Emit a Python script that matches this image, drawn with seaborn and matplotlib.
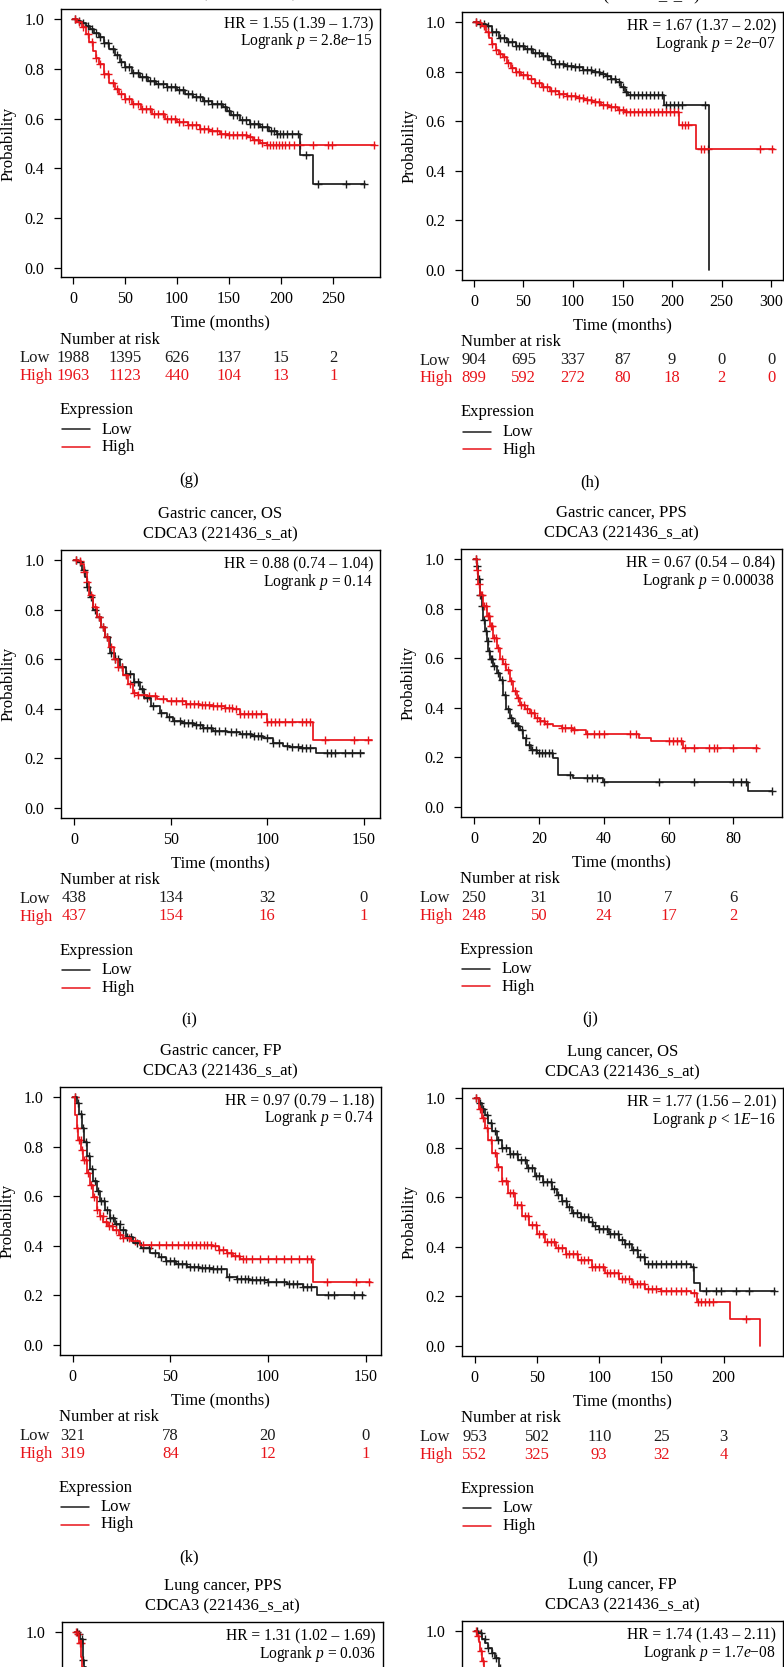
import numpy as np
import seaborn as sns
import matplotlib.pyplot as plt
from matplotlib.transforms import blended_transform_factory

# ---------------- data ----------------
# (g) top-left, only lower part of title visible
g_low_t = [0, 4, 8, 12, 16, 20, 25, 30, 35, 40, 45, 50, 57, 64, 72, 80, 90, 100, 108, 115, 125, 134, 144, 148, 152, 160, 170, 180, 188, 196, 218, 231, 281]
g_low_s = [1.0, 0.995, 0.985, 0.975, 0.962, 0.947, 0.928, 0.905, 0.880, 0.855, 0.830, 0.807, 0.785, 0.767, 0.752, 0.740, 0.726, 0.714, 0.700, 0.687, 0.673, 0.660, 0.647, 0.630, 0.613, 0.593, 0.580, 0.566, 0.552, 0.539, 0.452, 0.336, 0.336]
g_high_t = [0, 4, 9, 12, 15, 19, 22, 25, 30, 35, 40, 44, 50, 57, 65, 76, 88, 100, 110, 122, 131, 141, 150, 160, 167, 173, 180, 186, 290]
g_high_s = [1.0, 0.99, 0.968, 0.94, 0.91, 0.874, 0.845, 0.82, 0.78, 0.745, 0.718, 0.70, 0.68, 0.66, 0.64, 0.62, 0.60, 0.586, 0.573, 0.56, 0.55, 0.54, 0.535, 0.533, 0.525, 0.513, 0.503, 0.493, 0.493]
g_low_c = [2, 6, 10, 14, 18, 22, 26, 30, 34, 38, 42, 46, 50, 54, 58, 62, 66, 70, 74, 78, 82, 86, 90, 94, 98, 102, 106, 110, 114, 118, 122, 126, 130, 134, 138, 142, 146, 150, 154, 158, 162, 166, 170, 174, 178, 182, 186, 190, 193, 196, 199, 202, 206, 210, 216, 224, 235, 262, 280]
g_high_c = [2, 6, 10, 14, 18, 22, 26, 30, 34, 38, 42, 46, 50, 54, 58, 62, 66, 70, 74, 78, 82, 86, 90, 94, 98, 102, 106, 110, 114, 118, 122, 126, 130, 134, 138, 142, 146, 150, 154, 158, 162, 166, 170, 174, 178, 182, 186, 189, 192, 195, 198, 201, 204, 208, 212, 218, 231, 245, 249, 289]
g_ticks = [0, 50, 100, 150, 200, 250]
g_risk_low = [1988, 1395, 626, 137, 15, 2]
g_risk_high = [1963, 1123, 440, 104, 13, 1]

# (h)
h_low_t = [0, 5, 12, 18, 25, 33, 42, 52, 60, 69, 76, 82, 92, 101, 110, 119, 127, 133, 138, 143, 148, 153, 156, 192, 237]
h_low_s = [1.0, 0.993, 0.984, 0.96, 0.937, 0.92, 0.904, 0.89, 0.876, 0.863, 0.845, 0.83, 0.823, 0.817, 0.807, 0.797, 0.79, 0.783, 0.77, 0.756, 0.736, 0.716, 0.705, 0.667, 0.0]
h_high_t = [0, 4, 8, 12, 15, 18, 22, 25, 29, 33, 37, 42, 48, 55, 62, 69, 77, 86, 94, 103, 111, 119, 128, 136, 145, 153, 207, 224, 303]
h_high_s = [1.0, 0.995, 0.984, 0.96, 0.935, 0.91, 0.885, 0.87, 0.857, 0.835, 0.815, 0.797, 0.785, 0.77, 0.753, 0.736, 0.722, 0.71, 0.70, 0.693, 0.685, 0.676, 0.666, 0.656, 0.646, 0.636, 0.586, 0.489, 0.489]
h_low_c = [2, 6, 10, 14, 18, 22, 26, 30, 34, 38, 42, 46, 50, 54, 58, 62, 66, 70, 74, 78, 82, 86, 90, 94, 98, 102, 106, 110, 114, 118, 122, 126, 130, 134, 138, 142, 146, 150, 154, 158, 162, 166, 170, 174, 178, 182, 186, 190, 194, 198, 202, 206, 210, 233]
h_high_c = [2, 6, 10, 14, 18, 22, 26, 30, 34, 38, 42, 46, 50, 54, 58, 62, 66, 70, 74, 78, 82, 86, 90, 94, 98, 102, 106, 110, 114, 118, 122, 126, 130, 134, 138, 142, 146, 150, 154, 158, 162, 166, 170, 174, 178, 182, 186, 190, 194, 198, 202, 206, 210, 213, 216, 229, 232, 236, 289, 301]
h_ticks = [0, 50, 100, 150, 200, 250, 300]
h_risk_low = [904, 695, 337, 87, 9, 0, 0]
h_risk_high = [899, 592, 272, 80, 18, 2, 0]

# (i) Gastric cancer, OS
i_low_t = [0, 2, 4, 5.5, 7, 8.5, 10, 12, 14, 16, 18.6, 21, 24, 27, 31, 34, 36, 40, 44.5, 48, 51.4, 56, 62, 67, 72, 79, 86, 92, 98, 103, 108, 112, 118, 125, 150]
i_low_s = [1.0, 0.99, 0.96, 0.93, 0.89, 0.85, 0.80, 0.77, 0.73, 0.69, 0.625, 0.6, 0.567, 0.54, 0.509, 0.48, 0.443, 0.41, 0.385, 0.365, 0.349, 0.342, 0.334, 0.322, 0.3125, 0.305, 0.298, 0.29, 0.283, 0.262, 0.25, 0.247, 0.243, 0.221, 0.221]
i_high_t = [0, 2, 3.5, 5, 6.5, 8, 10, 12, 14, 16, 18, 20.5, 23, 25.5, 28, 30.7, 33, 37.6, 43, 48, 58, 65, 72, 78, 82.4, 86, 99.7, 123.8, 154]
i_high_s = [1.0, 0.995, 0.985, 0.95, 0.91, 0.86, 0.81, 0.77, 0.73, 0.69, 0.65, 0.60, 0.57, 0.538, 0.50, 0.465, 0.455, 0.45, 0.44, 0.433, 0.42, 0.415, 0.41, 0.405, 0.40, 0.378, 0.346, 0.276, 0.276]
i_low_c = [1, 3, 5, 7, 9, 11, 13, 15, 17, 19, 21, 23, 25, 27, 29, 31, 33, 35, 38, 41, 45, 49, 52, 55, 57, 59, 61, 63, 65, 67, 69, 71, 73, 75, 78, 81, 84, 87, 89, 91, 93, 95, 97, 100, 103, 106, 110, 113, 116, 118, 120, 122, 131, 133, 135, 140, 144, 148]
i_high_c = [1, 3, 5, 7, 9, 11, 13, 15, 17, 19, 21, 23, 25, 27, 29, 31, 33, 36, 39, 42, 46, 50, 53, 56, 58, 60, 62, 64, 66, 68, 70, 72, 74, 76, 78, 80, 82, 84, 86, 88, 90, 92, 94, 97, 100, 102, 104, 106, 109, 113, 118, 120, 122, 130, 145, 152]
i_ticks = [0, 50, 100, 150]
i_risk_low = [438, 134, 32, 0]
i_risk_high = [437, 154, 16, 1]

# (j) Gastric cancer, PPS
j_low_t = [0, 0.8, 1.3, 1.8, 2.4, 2.9, 3.4, 3.9, 4.4, 4.9, 5.9, 7, 8, 9, 10, 11, 12.1, 13.2, 14.2, 15.2, 16.2, 17.7, 19.3, 24.4, 25.9, 30.6, 39.8, 84.4, 92]
j_low_s = [1.0, 0.971, 0.92, 0.856, 0.81, 0.755, 0.71, 0.669, 0.63, 0.597, 0.568, 0.54, 0.511, 0.45, 0.396, 0.36, 0.338, 0.325, 0.309, 0.28, 0.252, 0.23, 0.216, 0.197, 0.13, 0.118, 0.10, 0.065, 0.065]
j_high_t = [0, 0.8, 1.3, 1.8, 2.9, 3.9, 4.9, 5.9, 7, 8, 9, 10, 11, 12.1, 13.2, 14.2, 15.7, 17.2, 18.7, 20.3, 22, 24.4, 27, 30.6, 34.7, 51, 54.7, 64.4, 87.5]
j_high_s = [1.0, 0.957, 0.9, 0.856, 0.81, 0.77, 0.73, 0.683, 0.64, 0.597, 0.575, 0.554, 0.51, 0.468, 0.44, 0.41, 0.395, 0.381, 0.36, 0.345, 0.335, 0.327, 0.318, 0.309, 0.295, 0.28, 0.266, 0.24, 0.24]
j_low_c = [0.5, 1, 1.5, 2, 2.6, 3.2, 3.7, 4.2, 4.7, 5.2, 5.7, 6.3, 7.5, 8.5, 9.5, 10.5, 11.5, 12.5, 13.5, 14.8, 16, 17, 18, 19, 20, 21, 22, 23, 24, 29.5, 35, 36.5, 38, 40, 57, 68, 80, 82.5, 84, 92]
j_high_c = [0.5, 1, 1.5, 2.2, 2.6, 3.2, 3.7, 4.2, 4.7, 5.2, 5.7, 6.3, 6.7, 7.5, 8.5, 9.5, 10.5, 11.5, 12.5, 13.5, 14.5, 15.5, 16.5, 17.5, 18.5, 19.5, 20.5, 21.5, 22.5, 27, 28, 30, 31, 35, 37, 38.5, 40, 48, 50, 60, 61.5, 62.5, 64, 65, 68, 72.5, 74, 75, 80, 87]
j_ticks = [0, 20, 40, 60, 80]
j_risk_low = [250, 31, 10, 7, 6]
j_risk_high = [248, 50, 24, 17, 2]

# (k) Gastric cancer, FP
k_low_t = [0, 2, 3.3, 4.6, 5.9, 7.2, 8.9, 10.6, 12.3, 14, 16.5, 19, 21.5, 24.2, 27.5, 31, 35, 39.6, 44, 48, 53, 58.4, 65, 72, 78.8, 84, 90.8, 100, 110, 118, 125, 149]
k_low_s = [1.0, 0.975, 0.93, 0.876, 0.82, 0.76, 0.71, 0.661, 0.62, 0.579, 0.545, 0.512, 0.487, 0.463, 0.437, 0.413, 0.392, 0.372, 0.355, 0.339, 0.325, 0.314, 0.31, 0.306, 0.273, 0.267, 0.261, 0.255, 0.248, 0.235, 0.202, 0.202]
k_high_t = [0, 1.2, 2, 2.9, 4.2, 5.5, 7.2, 8.9, 10.6, 12.3, 14, 15.7, 18, 20.8, 23.5, 26, 30, 34.5, 72, 75, 78.8, 82, 85.7, 123, 153]
k_high_s = [1.0, 0.926, 0.875, 0.826, 0.785, 0.744, 0.695, 0.645, 0.595, 0.545, 0.52, 0.496, 0.48, 0.463, 0.445, 0.43, 0.418, 0.405, 0.40, 0.385, 0.372, 0.36, 0.347, 0.256, 0.256]
k_low_c = [1, 2.5, 4, 5.5, 7, 8.5, 10, 11.5, 13, 14.5, 16, 17.5, 19, 20.5, 22, 24, 26, 28, 30, 33, 36, 39, 42, 45, 48, 50, 52, 54, 56, 58, 60, 62, 64, 66, 68, 70, 72, 74, 76, 80, 84, 86, 88, 90, 92, 94, 96, 98, 100, 104, 108, 111, 113, 115, 118, 120, 122, 131, 134, 144, 148]
k_high_c = [1, 2, 3, 4, 5, 6, 7, 8, 9.5, 11, 12.5, 14, 15.5, 17, 18.5, 20, 22, 24, 26, 29, 32, 36, 40, 44, 48, 51, 54, 57, 59, 61, 63, 65, 67, 69, 71, 73, 75, 77, 79, 81, 83, 85, 87, 89, 92, 96, 100, 104, 108, 112, 116, 120, 122, 130, 145, 152]
k_ticks = [0, 50, 100, 150]
k_risk_low = [321, 78, 20, 0]
k_risk_high = [319, 84, 12, 1]

# (l) Lung cancer, OS
l_low_t = [0, 3.2, 6, 8.6, 11, 14, 18, 22, 28, 35, 42, 48.7, 55, 62, 66, 70, 74, 78, 85, 91.6, 95, 99.6, 108, 115.7, 121, 126, 131, 137, 174, 176, 181, 241.5]
l_low_s = [1.0, 0.98, 0.955, 0.931, 0.9, 0.865, 0.83, 0.80, 0.775, 0.75, 0.717, 0.684, 0.66, 0.634, 0.61, 0.585, 0.56, 0.535, 0.52, 0.502, 0.485, 0.47, 0.45, 0.428, 0.41, 0.387, 0.36, 0.33, 0.32, 0.255, 0.222, 0.222]
l_high_t = [0, 3.2, 6, 8.6, 11, 14, 18, 22, 27, 32.7, 38, 43.4, 50, 56.8, 65, 73, 83, 94, 105, 115.7, 126, 137, 150, 174, 178.6, 205, 229.5]
l_high_s = [1.0, 0.956, 0.92, 0.88, 0.83, 0.78, 0.72, 0.667, 0.615, 0.568, 0.525, 0.486, 0.45, 0.42, 0.395, 0.37, 0.345, 0.32, 0.296, 0.272, 0.25, 0.23, 0.22, 0.214, 0.176, 0.11, 0.0]
l_low_c = [1, 4, 7, 10, 13, 16, 19, 22, 25, 28, 31, 34, 37, 40, 43, 46, 49, 52, 55, 58, 61, 64, 67, 70, 73, 76, 79, 82, 85, 88, 91, 94, 97, 100, 103, 106, 109, 112, 115, 118, 121, 124, 127, 130, 133, 136, 139, 142, 146, 150, 154, 158, 162, 166, 170, 175, 186, 194, 198, 210, 220, 240]
l_high_c = [1, 4, 7, 10, 13, 16, 19, 22, 25, 28, 31, 34, 37, 40, 43, 46, 49, 52, 55, 58, 61, 64, 67, 70, 73, 76, 79, 82, 85, 88, 91, 94, 97, 100, 103, 106, 109, 112, 115, 118, 121, 124, 127, 130, 133, 136, 139, 142, 146, 150, 154, 158, 162, 166, 170, 176, 179, 182, 185, 188, 191, 218]
l_ticks = [0, 50, 100, 150, 200]
l_risk_low = [953, 502, 110, 25, 3]
l_risk_high = [552, 325, 93, 32, 4]

# (m) Lung cancer, PPS / (n) Lung cancer, FP -- only the top of these is visible
m_low_t = [0, 1.7, 2.9, 4.3, 5, 6]
m_low_s = [1.0, 0.99, 0.97, 0.886, 0.86, 0.80]
m_high_t = [0, 1.5, 2.4, 3.4, 3.75, 4.5]
m_high_s = [1.0, 0.99, 0.957, 0.90, 0.86, 0.80]
m_low_c = [1, 2, 3.5, 4.5]
m_high_c = [0.5, 1.5, 2.5, 3.2]
n_low_t = [0, 3, 5.9, 8.5, 11, 14, 16.6, 19.3, 22]
n_low_s = [1.0, 0.99, 0.969, 0.95, 0.93, 0.91, 0.889, 0.85, 0.82]
n_high_t = [0, 2, 3.2, 4.6, 6, 7.2, 9]
n_high_s = [1.0, 0.98, 0.956, 0.92, 0.88, 0.85, 0.80]
n_low_c = [2, 5, 8, 11, 14, 17, 20]
n_high_c = [1, 3, 5, 6.5]

# ---------------- style ----------------
sns.set_theme(style='ticks')
plt.rcParams['font.family'] = ['Liberation Serif', 'DejaVu Serif']
plt.rcParams['mathtext.fontset'] = 'custom'
plt.rcParams['mathtext.rm'] = 'Liberation Serif'
plt.rcParams['mathtext.it'] = 'Liberation Serif:italic'
for key in ['text.color', 'axes.labelcolor', 'xtick.color', 'ytick.color', 'axes.edgecolor']:
    plt.rcParams[key] = 'black'

RED = '#e8141a'
BLACK = '#1c1c1c'
FS = 12          # general text
FS_TICK = 11.5   # tick labels
FS_HR = 11.2     # HR / logrank box
W, H = 784, 1667

fig = plt.figure(figsize=(W / 100, H / 100), dpi=100)
fig.patch.set_facecolor('white')


def step_at(t, s, q):
    idx = np.searchsorted(np.asarray(t), np.asarray(q), side='right') - 1
    return np.asarray(s)[np.clip(idx, 0, len(s) - 1)]


def km_panel(box, xlim, ticks, low, high, title, hr, p_txt, risk=None, label=None, right=False):
    left, top, w, h = box
    ax = fig.add_axes([left / W, 1 - (top + h) / H, w / W, h / H])
    for (t, s, cens), col in [(low, BLACK), (high, RED)]:
        sns.lineplot(x=t, y=s, drawstyle='steps-post', color=col, lw=1.25,
                     estimator=None, sort=False, ax=ax)
        sns.scatterplot(x=cens, y=step_at(t, s, cens), marker='+', s=34,
                        color=col, linewidth=1.0, ax=ax)
    ax.set_xlim(*xlim)
    ax.set_ylim(-0.04, 1.04)
    ax.set_xticks(ticks)
    ax.tick_params(axis='both', direction='out', length=5, width=0.9, labelsize=FS_TICK)
    ax.tick_params(axis='x', pad=5)
    ax.tick_params(axis='y', pad=7)
    for sp in ax.spines.values():
        sp.set_visible(True)
        sp.set_linewidth(1.0)
        sp.set_color('black')

    # title (two lines)
    cx = left + w / 2
    if title[0]:
        fig.text(cx / W, 1 - (top - 36) / H, title[0], ha='center', va='center', fontsize=FS)
    fig.text(cx / W, 1 - (top - 16) / H, title[1], ha='center', va='center', fontsize=FS)

    ax.text(0.978, 1 - 14.5 / h, hr, transform=ax.transAxes, ha='right', va='center', fontsize=FS_HR)
    ax.text(0.978, 1 - 31.5 / h, p_txt, transform=ax.transAxes, ha='right', va='center', fontsize=FS_HR)

    if risk is None:
        # bottom row: only the top of the panel lies inside the picture
        ax.set_yticks([1.0])
        ax.set_yticklabels(['1.0'])
        ax.tick_params(axis='x', labelbottom=False)
        return ax

    ax.set_yticks([0, 0.2, 0.4, 0.6, 0.8, 1.0])
    ax.set_yticklabels(['0.0', '0.2', '0.4', '0.6', '0.8', '1.0'])
    ax.set_ylabel('Probability', fontsize=FS)
    ax.yaxis.set_label_coords(-52 / w, 0.5)
    ax.yaxis.label.set_verticalalignment('center')

    bottom = top + h
    ax.set_xlabel('Time (months)', fontsize=FS)
    ax.xaxis.set_label_coords(0.5, -45 / h)
    ax.xaxis.label.set_verticalalignment('center')

    trans = blended_transform_factory(ax.transData, ax.transAxes)
    lab_x = 420 if right else 20
    fig.text((left - 1) / W, 1 - (bottom + 62) / H, 'Number at risk', ha='left', va='center', fontsize=FS)
    fig.text(lab_x / W, 1 - (bottom + 80.5) / H, 'Low', ha='left', va='center', fontsize=FS, color=BLACK)
    fig.text(lab_x / W, 1 - (bottom + 98.5) / H, 'High', ha='left', va='center', fontsize=FS, color=RED)
    for xv, lo, hi in zip(ticks, risk[0], risk[1]):
        ax.text(xv, -80.5 / h, str(lo), transform=trans, ha='center', va='center', fontsize=FS, color=BLACK, clip_on=False)
        ax.text(xv, -98.5 / h, str(hi), transform=trans, ha='center', va='center', fontsize=FS, color=RED, clip_on=False)

    # legend block
    fig.text((left - 1) / W, 1 - (bottom + 132.5) / H, 'Expression', ha='left', va='center', fontsize=FS)
    for dy, name, col in [(152, 'Low', BLACK), (169.5, 'High', RED)]:
        yy = 1 - (bottom + dy) / H
        fig.add_artist(plt.Line2D([(left + 1) / W, (left + 29) / W], [yy, yy], color=col, lw=1.1))
        fig.text((left + 41) / W, yy, name, ha='left', va='center', fontsize=FS)

    cxl = 590 if right else 189
    fig.text(cxl / W, 1 - (bottom + 202) / H, label, ha='center', va='center', fontsize=FS)
    return ax


km_panel((61, 9.5, 319, 268), (-11.6, 295), g_ticks,
         (g_low_t, g_low_s, g_low_c), (g_high_t, g_high_s, g_high_c),
         ('', 'CDCA3 (221436_s_at)'), 'HR = 1.55 (1.39 – 1.73)', r'Logrank $p$ = 2.8$e$−15',
         risk=(g_risk_low, g_risk_high), label='(g)')
km_panel((462, 12, 321, 268), (-12, 312), h_ticks,
         (h_low_t, h_low_s, h_low_c), (h_high_t, h_high_s, h_high_c),
         ('', 'CDCA3 (221436_s_at)'), 'HR = 1.67 (1.37 – 2.02)', r'Logrank $p$ = 2$e$−07',
         risk=(h_risk_low, h_risk_high), label='(h)', right=True)
km_panel((61, 550, 319, 268), (-6.7, 158.3), i_ticks,
         (i_low_t, i_low_s, i_low_c), (i_high_t, i_high_s, i_high_c),
         ('Gastric cancer, OS', 'CDCA3 (221436_s_at)'), 'HR = 0.88 (0.74 – 1.04)', r'Logrank $p$ = 0.14',
         risk=(i_risk_low, i_risk_high), label='(i)')
km_panel((461, 549, 321, 268), (-4, 95), j_ticks,
         (j_low_t, j_low_s, j_low_c), (j_high_t, j_high_s, j_high_c),
         ('Gastric cancer, PPS', 'CDCA3 (221436_s_at)'), 'HR = 0.67 (0.54 – 0.84)', r'Logrank $p$ = 0.00038',
         risk=(j_risk_low, j_risk_high), label='(j)', right=True)
km_panel((60, 1087, 321, 268), (-6.5, 157.9), k_ticks,
         (k_low_t, k_low_s, k_low_c), (k_high_t, k_high_s, k_high_c),
         ('Gastric cancer, FP', 'CDCA3 (221436_s_at)'), 'HR = 0.97 (0.79 – 1.18)', r'Logrank $p$ = 0.74',
         risk=(k_risk_low, k_risk_high), label='(k)')
km_panel((462, 1088, 321, 268), (-10.2, 247.6), l_ticks,
         (l_low_t, l_low_s, l_low_c), (l_high_t, l_high_s, l_high_c),
         ('Lung cancer, OS', 'CDCA3 (221436_s_at)'), 'HR = 1.77 (1.56 – 2.01)', r'Logrank $p$ < 1$E$−16',
         risk=(l_risk_low, l_risk_high), label='(l)', right=True)
km_panel((62, 1622, 321, 268), (-6.5, 157.9), k_ticks,
         (m_low_t, m_low_s, m_low_c), (m_high_t, m_high_s, m_high_c),
         ('Lung cancer, PPS', 'CDCA3 (221436_s_at)'), 'HR = 1.31 (1.02 – 1.69)', r'Logrank $p$ = 0.036')
km_panel((462, 1621, 321, 268), (-10.2, 247.6), l_ticks,
         (n_low_t, n_low_s, n_low_c), (n_high_t, n_high_s, n_high_c),
         ('Lung cancer, FP', 'CDCA3 (221436_s_at)'), 'HR = 1.74 (1.43 – 2.11)', r'Logrank $p$ = 1.7$e$−08')

fig.savefig('out.png', dpi=100, facecolor='white')
